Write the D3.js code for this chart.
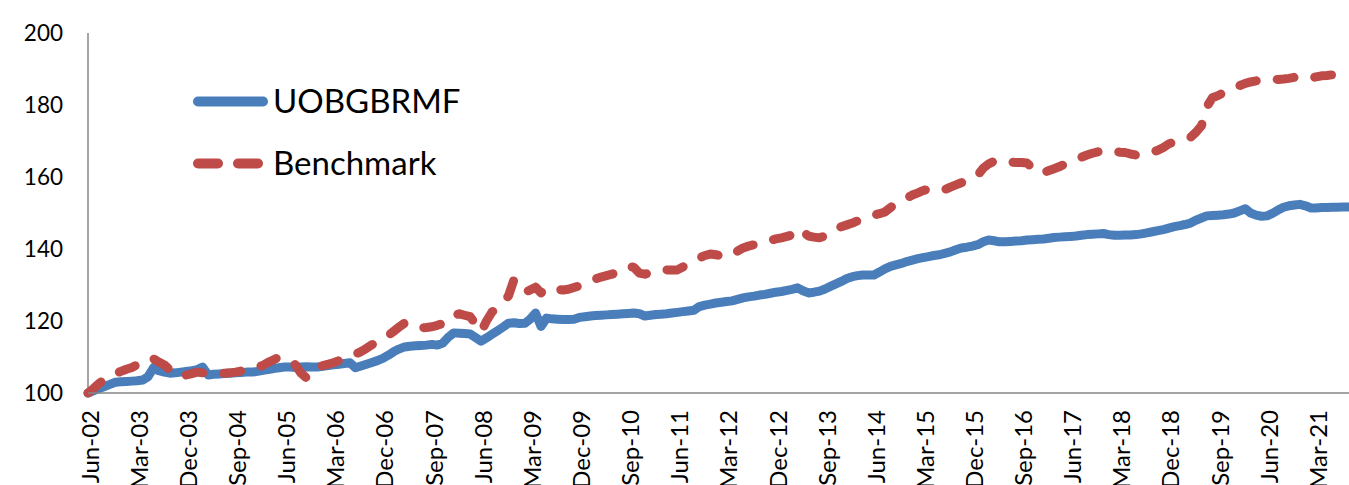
<!DOCTYPE html>
<html>
<head>
<meta charset="utf-8">
<script src="https://cdn.jsdelivr.net/npm/d3@7"></script>
<style>
  html, body { margin: 0; padding: 0; background: #fff; }
  svg { display: block; }
  text { font-family: Lato, "Open Sans", sans-serif; fill: #000; }
</style>
</head>
<body>
<svg id="chart" width="1349" height="485"></svg>
<script>
// ---- Data (monthly, Jun-02 .. Sep-21) ----
const seriesNames = ["UOBGBRMF", "Benchmark"];
const startMonth = "Jun-02";
const fundValues = [
  100, 100.6, 101.2, 101.8, 102.4, 103, 103.1, 103.2, 103.3, 103.4, 103.6, 104.5,
  107, 106.2, 105.8, 105.5, 105.6, 105.8, 106, 106.2, 106.5, 107.2, 105, 105.2,
  105.3, 105.4, 105.5, 105.6, 105.7, 105.8, 105.8, 106, 106.3, 106.5, 106.8, 107,
  107.2, 107.2, 107.1, 107.2, 107.3, 107.2, 107.2, 107.4, 107.6, 107.8, 108, 108.2,
  108.4, 107, 107.5, 108, 108.5, 109, 109.6, 110.5, 111.5, 112.2, 112.8, 113,
  113.1, 113.2, 113.3, 113.5, 113.3, 113.9, 115.5, 116.7, 116.6, 116.5, 116.4, 115.4,
  114.4, 115.3, 116.3, 117.3, 118.3, 119.4, 119.5, 119.3, 119.4, 120.5, 122.2, 118.5,
  120.8, 120.6, 120.5, 120.4, 120.4, 120.5, 121, 121.2, 121.4, 121.5, 121.6, 121.7,
  121.8, 121.9, 122, 122.1, 122.2, 122, 121.4, 121.6, 121.8, 121.9, 122, 122.2,
  122.4, 122.6, 122.8, 123, 124, 124.4, 124.7, 125, 125.2, 125.4, 125.6, 126,
  126.4, 126.7, 126.9, 127.2, 127.4, 127.7, 128, 128.2, 128.5, 128.8, 129.2, 128.4,
  127.8, 128, 128.3, 128.9, 129.6, 130.3, 131, 131.8, 132.3, 132.6, 132.8, 132.8,
  132.8, 133.6, 134.5, 135.2, 135.6, 136, 136.5, 136.9, 137.3, 137.6, 137.9, 138.2,
  138.4, 138.8, 139.2, 139.8, 140.3, 140.5, 140.8, 141.2, 142, 142.5, 142.3, 142,
  142, 142.1, 142.2, 142.3, 142.5, 142.6, 142.7, 142.8, 143, 143.2, 143.3, 143.4,
  143.5, 143.6, 143.8, 144, 144.1, 144.2, 144.3, 144, 143.8, 143.8, 143.9, 143.9,
  144, 144.2, 144.5, 144.8, 145.1, 145.4, 145.8, 146.2, 146.5, 146.8, 147.2, 148,
  148.6, 149.2, 149.3, 149.4, 149.5, 149.7, 150, 150.6, 151.2, 150, 149.4, 149.1,
  149.2, 149.9, 150.8, 151.6, 152, 152.2, 152.4, 152, 151.4, 151.4, 151.5, 151.5,
  151.6, 151.6, 151.7, 151.7
];
const benchmarkValues = [
  100, 101.2, 102.6, 103.8, 104.6, 105.4, 106, 106.6, 107.1, 107.8, 108.8, 109.6,
  109.5, 108.6, 107.8, 106.4, 105, 104.6, 105, 105.4, 105.8, 105.6, 105.5, 105.4,
  105.4, 105.5, 105.6, 105.8, 106.1, 106.4, 106.8, 107.2, 107.7, 108.5, 109.2, 110,
  109.6, 108.8, 107.8, 105.5, 104.2, 105.8, 107.2, 107.6, 108, 108.4, 109, 109.6,
  110.2, 110.8, 111.5, 112.4, 113.4, 114.2, 115.1, 116, 117.2, 118.3, 119.4, 118.6,
  118, 118.1, 118.2, 118.4, 118.8, 119.3, 119.7, 121.5, 122, 121.6, 121.2, 119.2,
  117, 120, 122.5, 123.8, 125.1, 127, 131.4, 129.8, 128, 128.6, 129.4, 127.8,
  129.2, 129.1, 128.8, 128.6, 128.8, 129.3, 129.8, 130.5, 131.1, 131.7, 132.2, 132.6,
  133, 133.5, 134.3, 135.2, 134.9, 133.3, 133, 133.5, 133.9, 134.2, 134.2, 134.2,
  134.2, 135, 135.9, 136.7, 137.5, 138.2, 138.6, 138.4, 138.1, 137.8, 138.5, 139.4,
  140.3, 140.8, 141.2, 141.6, 141.9, 142.4, 142.8, 143.1, 143.5, 143.9, 145.6, 144.8,
  143.6, 143.3, 143.1, 143.6, 145, 145.6, 146.2, 146.7, 147.2, 147.8, 148.5, 149,
  149.4, 149.8, 150.3, 151.5, 152.6, 153.4, 154.2, 155, 155.6, 156.2, 156.7, 156.6,
  156.4, 156.5, 157.2, 157.8, 158.4, 159, 159.4, 160.5, 162.5, 163.6, 164.4, 164.7,
  164.4, 164.2, 164, 164, 163.9, 162.5, 161.1, 161.2, 161.8, 162.3, 162.9, 163.6,
  164.2, 164.8, 165.5, 166.1, 166.6, 167, 167.3, 167.5, 167.3, 166.9, 166.8, 166.4,
  166.1, 166.2, 166.6, 167, 167.4, 168.2, 169.2, 169.8, 170.3, 170.6, 171, 172.4,
  174.2, 179.5, 182, 182.6, 183.4, 184.2, 184.8, 185.4, 186, 186.4, 186.7, 186.9,
  187, 187.1, 187.1, 187.2, 187.4, 187.7, 188, 187.8, 187.5, 187.8, 188.1, 188.2,
  188.4, 188.6, 188.8, 188.9
];
const yTicks = [100, 120, 140, 160, 180, 200];
const xTickLabels = ["Jun-02","Mar-03","Dec-03","Sep-04","Jun-05","Mar-06","Dec-06","Sep-07",
  "Jun-08","Mar-09","Dec-09","Sep-10","Jun-11","Mar-12","Dec-12","Sep-13","Jun-14","Mar-15",
  "Dec-15","Sep-16","Jun-17","Mar-18","Dec-18","Sep-19","Jun-20","Mar-21"];

// ---- Layout ----
const parse = d3.timeParse("%b-%y");
const t0 = parse(startMonth);
const months = fundValues.map((_, i) => d3.timeMonth.offset(t0, i));

const svg = d3.select("#chart");
const plot = { left: 88, right: 1349, top: 33, bottom: 393 };

const x = d3.scaleTime().domain([months[0], months[months.length - 1]]).range([plot.left, plot.right]);
const y = d3.scaleLinear().domain([100, 200]).range([plot.bottom, plot.top]);

const colors = ["#4a7ebb", "#be4b48"];

// y axis line
svg.append("line").attr("x1", plot.left).attr("x2", plot.left).attr("y1", plot.top).attr("y2", plot.bottom)
  .attr("stroke", "#868686").attr("stroke-width", 1.5);

// y tick labels
svg.append("g").selectAll("text").data(yTicks).join("text")
  .attr("x", 63).attr("y", d => y(d)).attr("dy", "0.36em")
  .attr("text-anchor", "end").attr("font-size", 22.5).text(d => d);

// x tick labels (rotated)
svg.append("g").selectAll("text").data(xTickLabels).join("text")
  .attr("transform", d => `translate(${x(parse(d)) + 2},410) rotate(-90)`)
  .attr("dy", "0.36em").attr("text-anchor", "end").attr("font-size", 24).text(d => d);

// Lines
const line = d3.line().x((d, i) => x(months[i])).y(d => y(d)).curve(d3.curveLinear);

svg.append("path").datum(fundValues)
  .attr("d", line).attr("fill", "none").attr("stroke", colors[0])
  .attr("stroke-width", 9).attr("stroke-linejoin", "round").attr("stroke-linecap", "round");

svg.append("path").datum(benchmarkValues)
  .attr("d", line).attr("fill", "none").attr("stroke", colors[1])
  .attr("stroke-width", 9).attr("stroke-linejoin", "round").attr("stroke-linecap", "round")
  .attr("stroke-dasharray", "17,21");

// x axis line
svg.append("line").attr("x1", plot.left).attr("x2", plot.right).attr("y1", plot.bottom).attr("y2", plot.bottom)
  .attr("stroke", "#868686").attr("stroke-width", 1.5);

// Legend
const legend = svg.append("g");
const legendRows = [{ y: 101.5, dash: null }, { y: 163.5, dash: "20,20" }];
legendRows.forEach((r, i) => {
  legend.append("line").attr("x1", 198).attr("x2", 263).attr("y1", r.y).attr("y2", r.y)
    .attr("stroke", colors[i]).attr("stroke-width", 10).attr("stroke-linecap", "round")
    .attr("stroke-dasharray", r.dash);
  legend.append("text").attr("x", 273).attr("y", r.y + 11.5)
    .attr("font-size", 33).text(seriesNames[i]);
});
</script>
</body>
</html>
